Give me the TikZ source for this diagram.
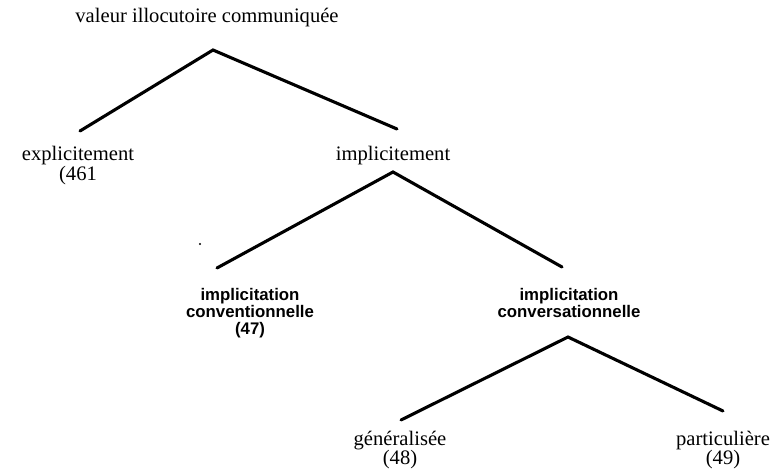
\documentclass[tikz,border=0pt]{standalone}
\usepackage{fontspec}
\setmainfont{Liberation Serif}
\newfontfamily\boldsans{Liberation Sans}
\begin{document}
\begin{tikzpicture}[x=1pt,y=-1pt,
  serif/.style={inner sep=0pt,anchor=north,align=center,font=\fontsize{20.6}{17}\selectfont},
  boldtxt/.style={inner sep=0pt,anchor=north,align=center,font=\boldsans\bfseries\fontsize{16.8}{17}\selectfont},
  branch/.style={line width=3.1pt,line cap=round,line join=miter}]
\useasboundingbox (0,0) rectangle (778,468);
% texts
\node[serif] (root) at (207,8) {valeur illocutoire communiquée};
\node[serif] (expl) at (78,146) {explicitement\\(461};
\node[serif] (impl) at (393,146) {implicitement};
\node[boldtxt] (conv) at (250,288) {implicitation\\conventionnelle\\(47)};
\node[boldtxt] (convers) at (569,288) {implicitation\\conversationnelle};
\node[serif] (gen) at (400,430.5) {généralisée\\(48)};
\node[serif] (part) at (723,430.5) {particulière\\(49)};
% branch points
\coordinate (rootA) at (213,50);
\coordinate (explT) at (80,131);
\coordinate (implT) at (397,129);
\coordinate (implA) at (393,172);
\coordinate (convT) at (217,268);
\coordinate (conversT) at (562,267);
\coordinate (conversA) at (568,337);
\coordinate (genT) at (401,420);
\coordinate (partT) at (723,411);
% connectors
\draw[branch] (explT) -- (rootA) -- (implT);
\draw[branch] (convT) -- (implA) -- (conversT);
\draw[branch] (genT) -- (conversA) -- (partT);
% stray dot
\fill (200,244) circle (1.2pt);
\end{tikzpicture}
\end{document}
